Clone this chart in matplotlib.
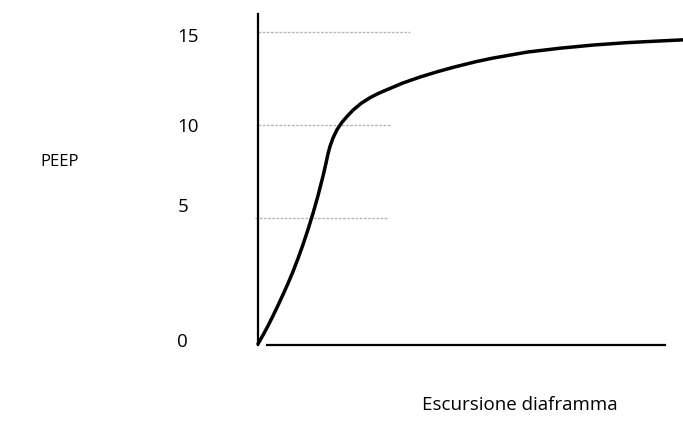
import matplotlib
matplotlib.use('Agg')
import matplotlib.pyplot as plt

# curve (x: arbitrary excursion units, y: PEEP scale of the sketch)
escursione = [0, 5, 10, 15, 20, 25, 30, 35, 40, 45, 50, 55, 60, 65, 68, 70, 72, 75,
              79, 84, 90, 95, 103, 112, 120, 129, 145, 162, 179, 195, 219, 235,
              269, 302, 335, 369, 402, 425]
peep = [-1.77, -1.30, -0.80, -0.26, 0.30, 0.88, 1.48, 2.12, 2.82, 3.57, 4.38, 5.25,
        6.20, 7.25, 7.95, 8.45, 8.85, 9.30, 9.75, 10.15, 10.52, 10.80, 11.16, 11.47,
        11.69, 11.90, 12.26, 12.58, 12.86, 13.10, 13.42, 13.60, 13.92, 14.13, 14.30,
        14.43, 14.52, 14.58]

# reference lines at PEEP 5, 10, 15 and how far right they are drawn
ref_levels = [5, 10, 15]
ref_starts = [-3, 0, 0]
ref_ends = [129, 132, 152]

# tick labels (as placed in the sketch)
tick_labels = ['0', '5', '10', '15']
tick_pos = [-1.55, 5.7, 10.0, 14.85]

plt.rcParams['font.family'] = ['Open Sans', 'DejaVu Sans']

fig = plt.figure(figsize=(6.83, 4.38), dpi=100)
ax = fig.add_axes([258/683, 1-345/438, (683-258)/683, (345-14)/438])

for lev, x0, x1 in zip(ref_levels, ref_starts, ref_ends):
    ax.plot([x0, x1], [lev, lev], color='#bdb3bd', lw=1.0, ls=(0, (2, 1)), clip_on=False, zorder=1)

ax.plot(escursione, peep, color='black', lw=2.5, clip_on=False,
        solid_capstyle='round', solid_joinstyle='round', zorder=3)

ax.set_xlim(0, 425)
ax.set_ylim(-1.83, 15.97)

ax.spines['top'].set_visible(False)
ax.spines['right'].set_visible(False)
ax.spines['left'].set_linewidth(1.6)
ax.spines['bottom'].set_linewidth(1.6)
ax.spines['bottom'].set_bounds(9, 407)

ax.set_xticks([])
ax.set_yticks(tick_pos)
ax.set_yticklabels(tick_labels, fontsize=13.5, ha='left')
ax.tick_params(axis='y', length=0, pad=58)

fig.text(40/683, 1-162/438, 'PEEP', fontsize=12, va='center', ha='left')
fig.text(520/683, 1-405/438, 'Escursione diaframma', fontsize=13.5, va='center', ha='center')

fig.savefig('out.png', dpi=100)
